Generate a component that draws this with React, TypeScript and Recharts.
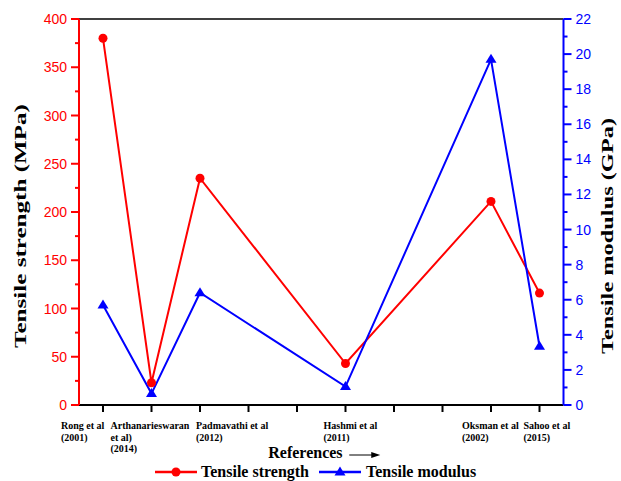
import { LineChart, Line, XAxis, YAxis, ReferenceLine } from "recharts";

// reference labels, one string per printed line
const references: string[][] = [
  ["Rong et al", "(2001)"],
  ["Arthanarieswaran", "et al)", "(2014)"],
  ["Padmavathi et al", "(2012)"],
  [],
  [],
  ["Hashmi et al", "(2011)"],
  [],
  [],
  ["Oksman et al", "(2002)"],
  ["Sahoo et al", "(2015)"],
];
const strengthMPa = [380, 23, 235, null, null, 43, null, null, 211, 116];
const modulusGPa = [5.7, 0.65, 6.4, null, null, 1.05, null, null, 19.7, 3.35];

const strengthTicks = [0, 50, 100, 150, 200, 250, 300, 350, 400];
const modulusTicks = [0, 2, 4, 6, 8, 10, 12, 14, 16, 18, 20, 22];

const RED = "#ff0000";
const BLUE = "#0000ff";
const SERIF = "'Liberation Serif', 'Times New Roman', serif";
const SANS = "'Liberation Sans', Arial, sans-serif";

const data = references.map((lines, i) => ({
  ref: lines.join(" "),
  strength: strengthMPa[i],
  modulus: modulusGPa[i],
}));

// add a minor tick halfway between each pair of major ticks
const withMinor = (major: number[]) =>
  major.flatMap((v, i) => (i === 0 ? [v] : [(major[i - 1] + v) / 2, v]));

// left edge of each reference label relative to its tick
const labelShift = [-42, -41, -4, 0, 0, -22, 0, 0, -29, -16];

function RefTick({ x, y, index }: any) {
  const lines = references[index] || [];
  return (
    <g>
      {lines.map((t, k) => (
        <text
          key={k}
          x={x + labelShift[index]}
          y={y + 15 + k * 11.5}
          fontFamily={SERIF}
          fontWeight="bold"
          fontSize={10}
          fill="#000"
        >
          {t}
        </text>
      ))}
    </g>
  );
}

function makeYTick(side: "left" | "right", major: number[], color: string) {
  return function YTick({ x, y, payload }: any) {
    const isMajor = major.includes(payload.value);
    const dir = side === "left" ? -1 : 1;
    const len = isMajor ? 8 : 4;
    return (
      <g>
        <line x1={x} x2={x + dir * len} y1={y} y2={y} stroke={color} strokeWidth={2} />
        {isMajor && (
          <text
            x={x + dir * 12}
            y={y}
            dy="0.36em"
            textAnchor={side === "left" ? "end" : "start"}
            fontFamily={SANS}
            fontSize={14}
            fill={color}
          >
            {payload.value}
          </text>
        )}
      </g>
    );
  };
}

const LeftTick = makeYTick("left", strengthTicks, RED);
const RightTick = makeYTick("right", modulusTicks, BLUE);

function AxisTitle({ cx, cy, text, length }: any) {
  return (
    <text
      transform={`translate(${cx},${cy}) rotate(-90)`}
      textAnchor="middle"
      dy="0.35em"
      fontFamily={SERIF}
      fontWeight="bold"
      fontSize={16.5}
      textLength={length}
      lengthAdjust="spacingAndGlyphs"
      fill="#000"
    >
      {text}
    </text>
  );
}

function ReferencesTitle({ viewBox }: any) {
  const cx = viewBox.x + viewBox.width / 2;
  const start = cx - 53;
  return (
    <g>
      <text x={start} y={458} fontFamily={SERIF} fontWeight="bold" fontSize={16} fill="#000">
        References
      </text>
      <line x1={start + 81} x2={start + 106} y1={455} y2={455} stroke="#000" strokeWidth={1} />
      <polygon
        points={`${start + 112},455 ${start + 103},452 ${start + 103},458`}
        fill="#000"
      />
    </g>
  );
}

function CircleDot({ cx, cy }: any) {
  if (cx == null || cy == null) return null;
  return <circle cx={cx} cy={cy} r={4.5} fill={RED} stroke="none" />;
}

function TriangleDot({ cx, cy }: any) {
  if (cx == null || cy == null) return null;
  return (
    <polygon
      points={`${cx},${cy - 5.5} ${cx + 5.5},${cy + 3.5} ${cx - 5.5},${cy + 3.5}`}
      fill={BLUE}
      stroke="none"
    />
  );
}

function LegendRow() {
  return (
    <svg
      width={621}
      height={22}
      style={{ position: "absolute", left: 0, top: 461 }}
    >
      <line x1={155} x2={197} y1={11} y2={11} stroke={RED} strokeWidth={2.5} />
      <circle cx={176} cy={11} r={4.5} fill={RED} />
      <text x={201} y={16} fontFamily={SERIF} fontWeight="bold" fontSize={16}>
        Tensile strength
      </text>
      <line x1={319} x2={361} y1={11} y2={11} stroke={BLUE} strokeWidth={2.5} />
      <polygon points="340,5.5 345.5,14.5 334.5,14.5" fill={BLUE} />
      <text x={366} y={16} fontFamily={SERIF} fontWeight="bold" fontSize={16}>
        Tensile modulus
      </text>
    </svg>
  );
}

export default function App() {
  return (
    <div
      style={{
        position: "absolute",
        left: 0,
        top: 0,
        width: 621,
        height: 481,
        background: "#fff",
      }}
    >
      <LineChart
        width={621}
        height={481}
        data={data}
        margin={{ top: 19, right: 0, bottom: 0, left: 0 }}
      >
        <XAxis
          dataKey="ref"
          type="category"
          interval={0}
          padding={{ left: 24, right: 24 }}
          height={76}
          stroke="#000"
          axisLine={{ stroke: "#000", strokeWidth: 2 }}
          tickLine={{ stroke: "#000", strokeWidth: 2 }}
          tickSize={7}
          tick={<RefTick />}
          label={<ReferencesTitle />}
        />
        <YAxis
          yAxisId="left"
          orientation="left"
          width={79}
          domain={[0, 400]}
          ticks={withMinor(strengthTicks)}
          interval={0}
          tickSize={0}
          tickMargin={0}
          tickLine={false}
          axisLine={{ stroke: RED, strokeWidth: 2 }}
          tick={<LeftTick />}
          label={<AxisTitle cx={20} cy={226} length={244} text="Tensile strength (MPa)" />}
        />
        <YAxis
          yAxisId="right"
          orientation="right"
          width={57.5}
          domain={[0, 22]}
          ticks={withMinor(modulusTicks)}
          interval={0}
          tickSize={0}
          tickMargin={0}
          tickLine={false}
          axisLine={{ stroke: BLUE, strokeWidth: 2 }}
          tick={<RightTick />}
          label={<AxisTitle cx={607} cy={236} length={236} text="Tensile modulus (GPa)" />}
        />
        <ReferenceLine yAxisId="left" y={400} stroke="#000" strokeWidth={1.5} />
        <Line
          yAxisId="left"
          dataKey="strength"
          type="linear"
          stroke={RED}
          strokeWidth={2}
          connectNulls
          dot={<CircleDot />}
          activeDot={false}
          isAnimationActive={false}
        />
        <Line
          yAxisId="right"
          dataKey="modulus"
          type="linear"
          stroke={BLUE}
          strokeWidth={2}
          connectNulls
          dot={<TriangleDot />}
          activeDot={false}
          isAnimationActive={false}
        />
      </LineChart>
      <LegendRow />
    </div>
  );
}
